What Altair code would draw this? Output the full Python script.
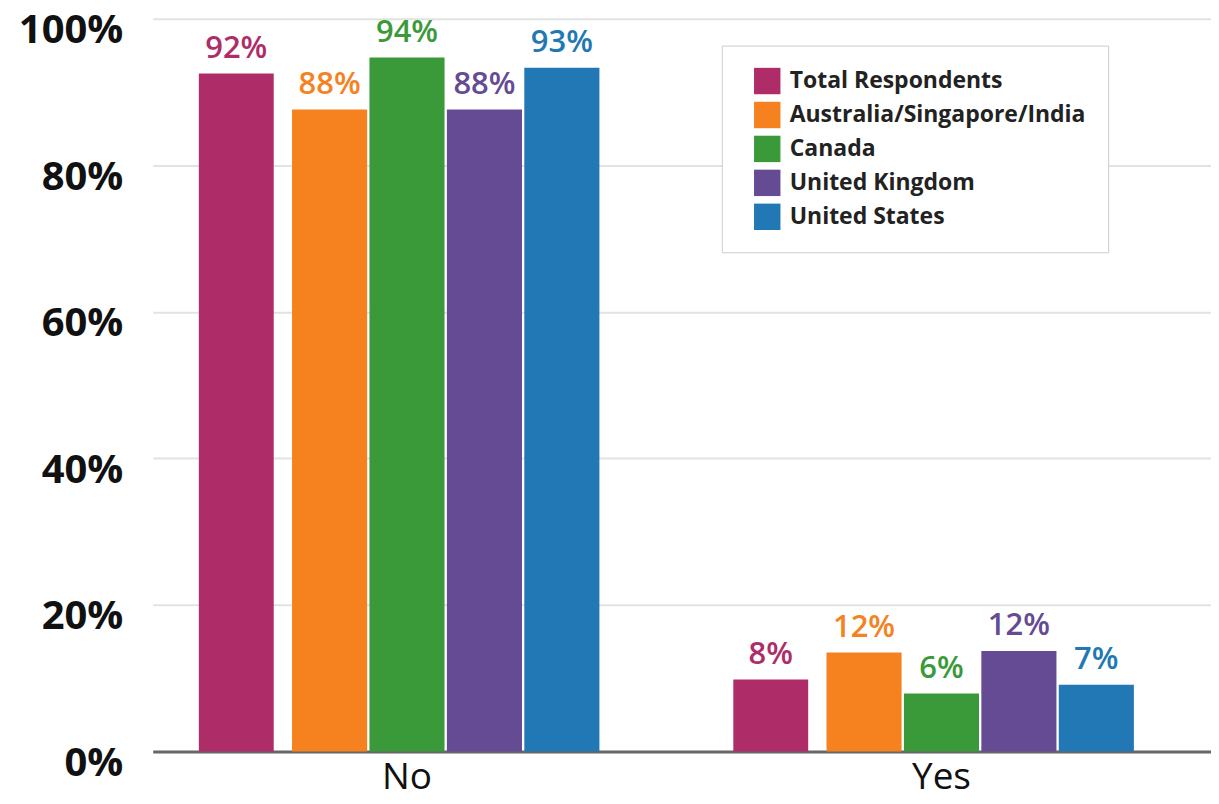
import altair as alt
import pandas as pd

answers = ["No", "Yes"]
series = ["Total Respondents", "Australia/Singapore/India", "Canada", "United Kingdom", "United States"]
colors = ["#AE2D68", "#F5821F", "#3A9A3A", "#654A94", "#2178B4"]
# bar heights as drawn in the picture (percent)
bars_no = [92.5, 87.6, 94.7, 87.6, 93.3]
bars_yes = [9.8, 13.5, 7.9, 13.7, 9.1]
# printed labels
labels_no = ["92%", "88%", "94%", "88%", "93%"]
labels_yes = ["8%", "12%", "6%", "12%", "7%"]

rows = []
for s, v, l in zip(series, bars_no, labels_no):
    rows.append({"answer": "No", "series": s, "value": v, "label": l})
for s, v, l in zip(series, bars_yes, labels_yes):
    rows.append({"answer": "Yes", "series": s, "value": v, "label": l})
df = pd.DataFrame(rows)

FONT = "Open Sans"
TOTAL_SHIFT = -171   # the total bar sits apart, to the left of each group
BAR_W = 75

x_enc = alt.X(
    "answer:N",
    sort=answers,
    scale=alt.Scale(paddingInner=0.28, paddingOuter=0.13, align=0.445),
    axis=alt.Axis(
        title=None, labelAngle=0, labelFontSize=37, labelFont=FONT,
        labelColor="#111", labelPadding=37, labelBaseline="alphabetic",
        ticks=False, domainColor="#666", domainWidth=3, grid=False,
    ),
)
y_enc = alt.Y(
    "value:Q",
    scale=alt.Scale(domain=[0, 100]),
    axis=alt.Axis(
        title=None, values=[0, 20, 40, 60, 80, 100],
        labelExpr="datum.value + '%'", labelFontSize=40, labelFont=FONT,
        labelFontWeight="bold", labelColor="#111", labelPadding=30,
        labelBaseline="alphabetic", labelOffset=24, labelFlush=False,
        ticks=False, domain=False, gridColor="#e2e2e2", gridWidth=2,
    ),
)
color_enc = alt.Color(
    "series:N",
    sort=series,
    scale=alt.Scale(domain=series, range=colors),
    legend=alt.Legend(
        title=None, orient="none", legendX=570, legendY=27,
        symbolType="square", symbolSize=700, symbolStrokeWidth=0,
        labelFontSize=23, labelFont=FONT, labelFontWeight="bold",
        labelColor="#222", rowPadding=7, padding=22, symbolOffset=10,
        labelOffset=9, strokeColor="#cccccc", fillColor="white",
        labelLimit=400,
    ),
)

others = alt.Chart(df).transform_filter(alt.datum.series != "Total Respondents").encode(
    x=x_enc,
    xOffset=alt.XOffset("series:N", sort=series, scale=alt.Scale(domain=series, paddingInner=0.03)),
    y=y_enc,
    color=color_enc,
)
total = alt.Chart(df).transform_filter(alt.datum.series == "Total Respondents").encode(
    x=x_enc,
    y=y_enc,
    color=color_enc,
)

txt_kw = dict(baseline="bottom", dy=-9, fontSize=31, font=FONT, fontWeight=600)

bars_other = others.mark_bar()
text_other = others.mark_text(**txt_kw).encode(text="label:N")
bars_total = total.mark_bar(width=BAR_W, xOffset=TOTAL_SHIFT)
text_total = total.mark_text(xOffset=TOTAL_SHIFT, **txt_kw).encode(text="label:N")

chart = alt.layer(bars_other, bars_total, text_other, text_total).properties(
    width=1060,
    height=734,
    autosize=alt.AutoSizeParams(type="none"),
    padding={"left": 145, "top": 10, "right": 0, "bottom": 44},
).configure_view(stroke=None)

chart.save("out.html", embed_options={"renderer": "svg", "actions": False})
